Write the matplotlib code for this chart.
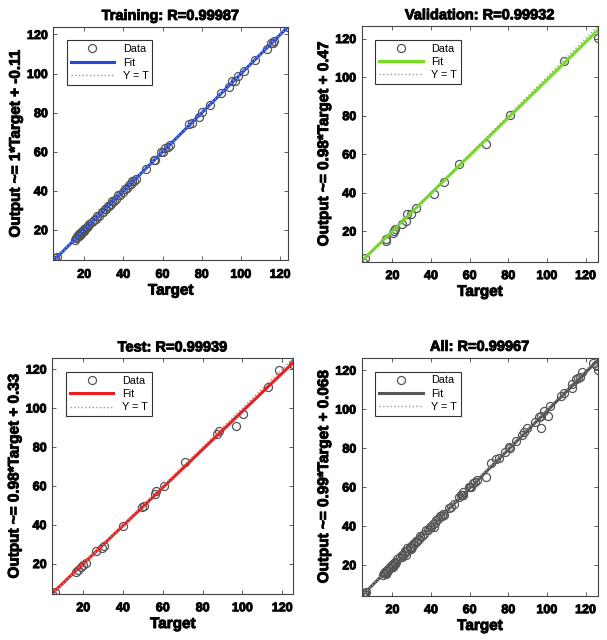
import matplotlib
matplotlib.use("Agg")
import matplotlib.pyplot as plt
import matplotlib.patheffects as pe
import numpy as np

plt.rcParams["font.family"] = ["Liberation Sans", "DejaVu Sans"]

# values (target, network output)
train_target = [4.6, 5.2, 6.3, 15.2, 15.8, 16.1, 16.5, 16.9, 17.2, 17.6, 17.9, 18.3,
                18.6, 19.0, 19.4, 19.8, 20.1, 20.5, 21.0, 21.4, 22.0, 22.6, 24.1, 25.0,
                25.8, 26.7, 27.5, 28.9, 29.6, 30.4, 31.2, 32.0, 32.7, 33.5, 34.3, 35.1,
                36.2, 37.4, 38.3, 39.6, 40.8, 41.9, 42.7, 43.8, 44.6, 45.5, 46.3, 51.7,
                55.4, 56.3, 59.4, 60.2, 61.5, 62.8, 63.9, 73.6, 75.1, 78.4, 80.2, 84.1,
                89.6, 93.8, 95.7, 96.9, 98.4, 101.8, 107.2, 113.1, 115.2, 116.3, 117.1, 123.9]
train_output = [4.3, 5.4, 6.0, 15.0, 15.9, 16.3, 16.2, 17.1, 17.0, 17.8, 17.6, 18.1,
                18.9, 18.8, 19.6, 19.5, 20.3, 20.2, 20.7, 21.5, 21.7, 22.9, 23.8, 25.2,
                25.5, 26.9, 27.2, 29.1, 29.3, 30.6, 30.9, 32.3, 32.4, 33.2, 34.6, 34.8,
                36.0, 37.7, 38.0, 39.3, 41.0, 41.6, 42.9, 43.5, 44.9, 45.2, 46.0, 51.3,
                55.8, 55.9, 59.9, 59.8, 61.9, 62.4, 63.5, 74.2, 74.8, 78.0, 80.5, 83.7,
                90.2, 93.3, 96.1, 96.4, 98.9, 101.4, 107.0, 112.8, 115.6, 115.8, 116.5, 123.6]

val_target = [4.7, 5.6, 16.4, 16.9, 20.3, 20.7, 21.2, 25.0, 26.9, 27.3, 29.4, 32.1,
              41.5, 46.7, 54.7, 68.5, 80.7, 108.7, 126.4]
val_output = [4.1, 5.8, 15.1, 15.7, 19.1, 20.0, 20.9, 23.8, 25.2, 28.7, 28.7, 31.8,
              39.4, 45.5, 55.0, 65.4, 80.3, 108.4, 120.2]

test_target = [4.5, 5.7, 16.6, 17.4, 18.8, 20.0, 21.2, 26.4, 29.5, 30.3, 39.8, 49.3,
               50.5, 56.2, 56.6, 60.5, 71.2, 87.2, 88.1, 96.7, 100.5, 112.8, 118.3, 125.5]
test_output = [4.4, 5.6, 15.7, 16.5, 18.3, 19.5, 20.5, 26.4, 28.1, 29.1, 39.5, 49.0,
               49.7, 55.8, 57.2, 59.8, 72.3, 86.7, 88.4, 90.5, 96.7, 111.0, 119.3, 122.6]

titles = ["Training: R=0.99987", "Validation: R=0.99932", "Test: R=0.99939", "All: R=0.99967"]
slopes = [1, 0.98, 0.98, 0.99]
intercepts = [-0.11, 0.47, 0.33, 0.068]
ylabels = ["Output ~= 1*Target + -0.11", "Output ~= 0.98*Target + 0.47",
           "Output ~= 0.98*Target + 0.33", "Output ~= 0.99*Target + 0.068"]
fit_colors = ["#2446dc", "#74de20", "#ee1c1c", "#555555"]
ticks = [20, 40, 60, 80, 100, 120]

all_target = train_target + val_target + test_target
all_output = train_output + val_output + test_output
datasets = [(train_target, train_output), (val_target, val_output),
            (test_target, test_output), (all_target, all_output)]

heavy = [pe.withStroke(linewidth=0.7, foreground="#111111")]

fig = plt.figure(figsize=(6.07, 6.40), dpi=100)
positions = [[0.088, 0.593, 0.386, 0.365], [0.596, 0.591, 0.389, 0.368],
             [0.086, 0.072, 0.397, 0.368], [0.596, 0.069, 0.389, 0.372]]

for i in range(4):
    t, y = datasets[i]
    ax = fig.add_axes(positions[i])
    mn = min(min(t), min(y))
    mx = max(max(t), max(y))
    xs = np.array([mn, mx])
    ax.plot(t, y, "o", mfc="none", mec="#555555", ms=5.8, mew=0.9, label="Data")
    ax.plot(xs, slopes[i] * xs + intercepts[i], "-", color=fit_colors[i], lw=2.2, label="Fit")
    ax.plot(xs, xs, ":", color="#999999", lw=1, label="Y = T")
    ax.set_xlim(mn, mx)
    ax.set_ylim(mn, mx)
    ax.set_xticks(ticks)
    ax.set_yticks(ticks)
    ax.tick_params(direction="in", top=True, right=True, length=3, width=0.6,
                   labelsize=9, color="#444444")
    ax.tick_params(axis="x", pad=6)
    ax.tick_params(axis="y", pad=4)
    for lab in ax.get_xticklabels() + ax.get_yticklabels():
        lab.set_fontweight("bold")
        lab.set_path_effects(heavy)
    for sp in ax.spines.values():
        sp.set_color("#444444")
        sp.set_linewidth(0.8)
    tt = ax.set_title(titles[i], fontsize=10.5, fontweight="bold", pad=5)
    tt.set_path_effects(heavy)
    xl = ax.set_xlabel("Target", fontsize=11, fontweight="bold", labelpad=2)
    xl.set_path_effects(heavy)
    yl = ax.set_ylabel(ylabels[i], fontsize=11, fontweight="bold", labelpad=3)
    yl.set_path_effects(heavy)
    leg = ax.legend(loc="upper left", fontsize=7.8, fancybox=False, framealpha=1,
                    edgecolor="#333333", borderpad=0.35, handlelength=4.0,
                    labelspacing=0.3, bbox_to_anchor=(0.035, 0.965))
    leg.get_frame().set_linewidth(0.8)

fig.savefig("out.png", dpi=100)
